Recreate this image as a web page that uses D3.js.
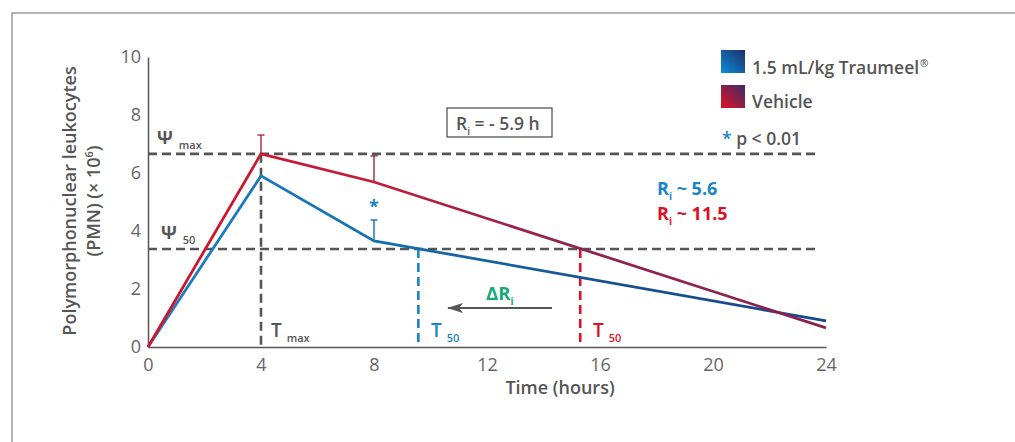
<!DOCTYPE html>
<html>
<head>
<meta charset="utf-8">
<script src="https://cdn.jsdelivr.net/npm/d3@7"></script>
<style>
  body { margin: 0; background: #fff; }
  svg { display: block; font-family: "Open Sans", "Noto Sans", sans-serif; }
</style>
</head>
<body>
<svg id="chart" width="1015" height="442"></svg>
<script>
// Time points (hours) and PMN counts (x 10^6)
const hours = [0, 4, 8, 24];
const traumeel = [0, 5.9, 3.66, 0.9];
const vehicle = [0, 6.66, 5.69, 0.66];
// Upper error bar ends
const vehicleErr = [{t: 4, hi: 7.31}, {t: 8, hi: 6.59}];
const traumeelErr = [{t: 8, hi: 4.38}];
// Reference levels
const psiMax = 6.66;
const psi50 = 3.38;
const tMax = 4;
const t50Traumeel = 9.57;
const t50Vehicle = 15.3;
const xTicks = [0, 4, 8, 12, 16, 20, 24];
const yTicks = [0, 2, 4, 6, 8, 10];

const svg = d3.select("#chart");
const x = d3.scaleLinear().domain([0, 24]).range([148, 826]);
const y = d3.scaleLinear().domain([0, 10]).range([347, 57]);

const grey = "#555";
const blue = "#1a84c8";
const red = "#dc1029";
const green = "#17a877";

// Outer frame
svg.append("rect").attr("x", 12).attr("y", 13).attr("width", 1100).attr("height", 500)
  .attr("fill", "none").attr("stroke", "#9a9a9a").attr("stroke-width", 1.5);

const defs = svg.append("defs");
function lineGrad(id, stops) {
  const g = defs.append("linearGradient").attr("id", id)
    .attr("gradientUnits", "userSpaceOnUse")
    .attr("x1", x(0)).attr("x2", x(24)).attr("y1", 0).attr("y2", 0);
  stops.forEach(s => g.append("stop").attr("offset", s[0]).attr("stop-color", s[1]));
}
lineGrad("gVeh", [[0, "#d0142c"], [0.34, "#c41c38"], [0.6, "#8f2550"], [1, "#88234e"]]);
lineGrad("gTra", [[0, "#1b80c4"], [0.34, "#176fb0"], [0.7, "#164f90"], [1, "#15478a"]]);
function boxGrad(id, a, b) {
  const g = defs.append("linearGradient").attr("id", id)
    .attr("x1", 0).attr("y1", 1).attr("x2", 1).attr("y2", 0);
  g.append("stop").attr("offset", 0).attr("stop-color", a);
  g.append("stop").attr("offset", 1).attr("stop-color", b);
}
boxGrad("bTra", "#0a8fd6", "#1d2d6c");
boxGrad("bVeh", "#e2121e", "#3c2a6c");
defs.append("marker").attr("id", "arr").attr("viewBox", "0 0 16 10")
  .attr("refX", 15).attr("refY", 5).attr("markerWidth", 16).attr("markerHeight", 10)
  .attr("markerUnits", "userSpaceOnUse").attr("orient", "auto")
  .append("path").attr("d", "M16,5 L0,0 L4,5 L0,10 Z").attr("fill", grey);

// Axes
const yAxis = svg.append("g").attr("transform", `translate(${x(0)},0)`)
  .call(d3.axisLeft(y).tickValues(yTicks).tickSize(0).tickPadding(7));
const xAxis = svg.append("g").attr("transform", `translate(0,${y(0)})`)
  .call(d3.axisBottom(x).tickValues(xTicks).tickSize(0).tickPadding(11));
[yAxis, xAxis].forEach(a => {
  a.select(".domain").attr("stroke", grey).attr("stroke-width", 1.5);
  a.selectAll("text").attr("fill", "#666").attr("font-size", 18)
    .attr("font-family", "Open Sans, sans-serif").attr("font-weight", 400);
});

// Dashed reference lines
const dash = "9,5";
function dline(x1, y1, x2, y2, col) {
  svg.append("line").attr("x1", x1).attr("y1", y1).attr("x2", x2).attr("y2", y2)
    .attr("stroke", col).attr("stroke-width", 2.6).attr("stroke-dasharray", dash);
}
dline(x(0), y(psiMax), 816, y(psiMax), grey);
dline(x(0), y(psi50), 816, y(psi50), grey);
dline(x(tMax), y(psiMax), x(tMax), y(0), grey);
dline(x(t50Traumeel), y(psi50), x(t50Traumeel), y(0), blue);
dline(x(t50Vehicle), y(psi50), x(t50Vehicle), y(0), red);

// Error bars
function errBar(d, series, col) {
  const v = series[hours.indexOf(d.t)];
  svg.append("line").attr("x1", x(d.t)).attr("x2", x(d.t)).attr("y1", y(v)).attr("y2", y(d.hi))
    .attr("stroke", col).attr("stroke-width", 1.5);
  svg.append("line").attr("x1", x(d.t) - 3.5).attr("x2", x(d.t) + 3.5).attr("y1", y(d.hi)).attr("y2", y(d.hi))
    .attr("stroke", col).attr("stroke-width", 1.5);
}
errBar(vehicleErr[0], vehicle, "#b03452");
errBar(vehicleErr[1], vehicle, "#9a3456");
errBar(traumeelErr[0], traumeel, "#1a78bc");

// Series lines
const line = d3.line().x((d, i) => x(hours[i])).y(d => y(d));
svg.append("path").datum(traumeel).attr("d", line).attr("fill", "none")
  .attr("stroke", "url(#gTra)").attr("stroke-width", 2.8).attr("stroke-linejoin", "miter");
svg.append("path").datum(vehicle).attr("d", line).attr("fill", "none")
  .attr("stroke", "url(#gVeh)").attr("stroke-width", 2.8).attr("stroke-linejoin", "miter");

// Significance star
svg.append("text").attr("x", x(8)).attr("y", 213).attr("text-anchor", "middle")
  .attr("fill", blue).attr("font-size", 18).attr("font-weight", 700).text("*");

// Label with a subscript: main text, subscript, optional trailing text
function subLabel(px, py, main, sub, rest, col, size, subSize, anchor, gap) {
  const t = svg.append("text").attr("x", px).attr("y", py).attr("fill", col)
    .attr("font-size", size).attr("font-weight", 700).attr("text-anchor", anchor || "start");
  t.append("tspan").text(main);
  t.append("tspan").attr("dx", gap || 0).attr("dy", 5).attr("font-size", subSize).text(sub);
  if (rest) t.append("tspan").attr("dy", -5).text(rest);
  return t;
}
subLabel(157, 144, "Ψ", "max", null, grey, 18, 11, "start", 6).select("tspan:nth-child(2)").attr("font-weight", 600);
subLabel(161, 239, "Ψ", "50", null, grey, 18, 11, "start", 6).select("tspan:nth-child(2)").attr("font-weight", 600);
subLabel(271, 337, "T", "max", null, grey, 19, 11, "start", 5).attr("font-weight", 600);
subLabel(431, 337, "T", "50", null, blue, 19, 11, "start", 5).attr("font-weight", 600);
subLabel(593, 337, "T", "50", null, red, 19, 11, "start", 5).attr("font-weight", 600);

// Boxed interval label
svg.append("rect").attr("x", 447).attr("y", 108).attr("width", 105).attr("height", 29)
  .attr("fill", "#fff").attr("stroke", grey).attr("stroke-width", 1.3);
subLabel(456, 130, "R", "i", " = - 5.9 h", grey, 17.5, 10, "start", 0).attr("font-weight", 600);

// Interval values
subLabel(657, 195, "R", "i", " ~ 5.6", blue, 18, 10, "start", 0);
subLabel(657, 220, "R", "i", " ~ 11.5", red, 18, 10, "start", 0);

// Shift arrow
svg.append("line").attr("x1", 552).attr("x2", 448).attr("y1", 308).attr("y2", 308)
  .attr("stroke", grey).attr("stroke-width", 2).attr("marker-end", "url(#arr)");
subLabel(486, 300, "ΔR", "i", null, green, 18.5, 10, "start", 0);

// Legend
svg.append("rect").attr("x", 721).attr("y", 50).attr("width", 24).attr("height", 23).attr("fill", "url(#bTra)");
svg.append("rect").attr("x", 721).attr("y", 85).attr("width", 24).attr("height", 23).attr("fill", "url(#bVeh)");
const lt = svg.append("text").attr("x", 752).attr("y", 74).attr("fill", grey)
  .attr("font-size", 17.5).attr("font-weight", 600);
lt.append("tspan").text("1.5 mL/kg Traumeel");
lt.append("tspan").attr("dy", -7).attr("dx", 1).attr("font-size", 10).text("®");
svg.append("text").attr("x", 752).attr("y", 108).attr("fill", grey)
  .attr("font-size", 17.5).attr("font-weight", 600).text("Vehicle");
const pt = svg.append("text").attr("x", 722).attr("y", 145).attr("font-size", 17.5).attr("font-weight", 600);
pt.append("tspan").attr("fill", blue).text("*");
pt.append("tspan").attr("fill", grey).text(" p < 0.01");

// Axis titles
const yt = svg.append("text").attr("transform", "translate(76,201) rotate(-90)")
  .attr("text-anchor", "middle").attr("fill", grey).attr("font-size", 18).attr("font-weight", 600);
yt.append("tspan").attr("x", 0).attr("dy", 0).text("Polymorphonuclear leukocytes");
const yt2 = yt.append("tspan").attr("x", 0).attr("dy", 24);
yt2.text("(PMN) (× 10");
yt.append("tspan").attr("dy", -7).attr("font-size", 11).text("6");
yt.append("tspan").attr("dy", 7).text(")");
svg.append("text").attr("x", 560).attr("y", 394).attr("text-anchor", "middle")
  .attr("fill", grey).attr("font-size", 18).attr("font-weight", 600).text("Time (hours)");
</script>
</body>
</html>
